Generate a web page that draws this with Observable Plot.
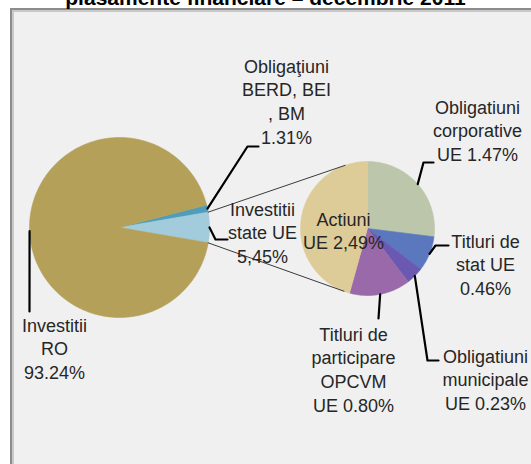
<!DOCTYPE html>
<html><head><meta charset="utf-8">
<script src="https://cdn.jsdelivr.net/npm/d3@7"></script>
<script src="https://cdn.jsdelivr.net/npm/@observablehq/plot@0.6"></script>
<style>
html,body{margin:0;padding:0;background:#fff;overflow:hidden;width:531px;height:464px;}
#wrap{position:relative;width:531px;height:464px;overflow:hidden;}
#title{position:absolute;left:0;width:531px;top:-13px;text-align:center;font:bold 21px "Liberation Sans",Arial,sans-serif;line-height:21px;color:#000;white-space:nowrap;}
#frame{position:absolute;left:10px;top:8px;width:560px;height:500px;border:2px solid #8c8c8c;background:#f0f0f0;box-shadow:inset 2px 2px 0 #c8c8c8;}
#chart{position:absolute;left:0;top:0;}
</style></head>
<body>
<div id="wrap">
<div id="frame"></div>
<div id="title">plasamente financiare – decembrie 2011</div>
<div id="chart"></div>
</div>
<script>
// ---- data ----
const mainCategories = ["Obligaţiuni BERD, BEI, BM", "Investitii state UE", "Investitii RO"];
const mainValues = [1.31, 5.45, 93.24];
const mainColors = ["#4f9dba", "#a2cbdc", "#b5a05a"];
const mainLabels = ["Obligaţiuni\nBERD, BEI\n, BM\n1.31%", "Investitii\nstate UE\n5,45%", "Investitii\nRO\n93.24%"];

const subCategories = ["Obligatiuni corporative UE", "Titluri de stat UE", "Obligatiuni municipale UE", "Titluri de participare OPCVM UE", "Actiuni UE"];
const subValues = [1.47, 0.46, 0.23, 0.80, 2.49];
const subColors = ["#bcc6aa", "#5b77bd", "#6b58b1", "#9a69a9", "#ddcc98"];
const subLabels = ["Obligatiuni\ncorporative\nUE 1.47%", "Titluri de\nstat UE\n0.46%", "Obligatiuni\nmunicipale\nUE 0.23%", "Titluri de\nparticipare\nOPCVM\nUE 0.80%", "Actiuni\nUE 2,49%"];

// ---- layout ----
const W = 531, H = 464;
const mainPie = {cx: 119, cy: 227, r: 90};
const subPie = {cx: 367, cy: 228, r: 67};
const LINE = 23.8, FS = 18;
const mainLayout = [
  {bend: [[247, 146], [258, 146]], lx: 286, ly: 72},
  {bend: [[215, 239], [227, 239]], lx: 262, ly: 215},
  {bend: [[29, 311]], lx: 54, ly: 331}
];
const subLayout = [
  {bend: [[423, 162], [433, 162]], lx: 477, ly: 113},
  {bend: [[435, 245], [448, 245]], lx: 485, ly: 247},
  {bend: [[427, 360], [438, 360]], lx: 485, ly: 362},
  {bend: [[378, 318]], lx: 353, ly: 340},
  {bend: null, lx: 343, ly: 225}
];
const connectorSubAngles = [-19.5, 200.5];

// ---- geometry from data ----
const rad = Math.PI / 180;
const mainTotal = d3.sum(mainValues);
const mainStart = Math.PI / 2 - (mainValues[1] / 2 + mainValues[0]) / mainTotal * 2 * Math.PI;
const mainArcs = d3.pie().sort(null).startAngle(mainStart).endAngle(mainStart + 2 * Math.PI)(mainValues);
const subArcs = d3.pie().sort(null).startAngle(0).endAngle(2 * Math.PI)(subValues);

const pt = (c, a, r = c.r) => [c.cx + r * Math.sin(a), c.cy - r * Math.cos(a)];
function slice(c, arc) {
  const pts = [[c.cx, c.cy]];
  const n = Math.max(2, Math.ceil((arc.endAngle - arc.startAngle) / rad));
  for (let i = 0; i <= n; i++) pts.push(pt(c, arc.startAngle + (arc.endAngle - arc.startAngle) * i / n));
  pts.push([c.cx, c.cy]);
  return pts;
}

const marks = [];
mainArcs.forEach((a, i) => marks.push(Plot.line(slice(mainPie, a), {x: d => d[0], y: d => d[1], fill: mainColors[i], stroke: mainColors[i], strokeWidth: 0.6})));
subArcs.forEach((a, i) => marks.push(Plot.line(slice(subPie, a), {x: d => d[0], y: d => d[1], fill: subColors[i], stroke: subColors[i], strokeWidth: 0.6})));

// connectors from the exploded slice to the secondary pie
const ex = mainArcs[1];
const conn = [
  [pt(mainPie, ex.startAngle), pt(subPie, connectorSubAngles[0] * rad)],
  [pt(mainPie, ex.endAngle), pt(subPie, connectorSubAngles[1] * rad)]
];
conn.forEach(c => marks.push(Plot.line(c, {x: d => d[0], y: d => d[1], stroke: "#3a3a3a", strokeWidth: 1})));

// leaders + labels
function addLabel(c, arc, lay, text) {
  if (lay.bend) {
    const mid = (arc.startAngle + arc.endAngle) / 2;
    const path = [pt(c, mid), ...lay.bend];
    marks.push(Plot.line(path, {x: d => d[0], y: d => d[1], stroke: "#000", strokeWidth: 2.2}));
  }
  const n = text.split("\n").length;
  marks.push(Plot.text([text], {x: () => lay.lx, y: () => lay.ly + (n - 1) * LINE, text: d => d,
    textAnchor: "middle", lineAnchor: "bottom", lineHeight: LINE / FS, fontSize: FS,
    fontFamily: "Liberation Sans, Arial, sans-serif", fill: "#262626"}));
}
mainArcs.forEach((a, i) => addLabel(mainPie, a, mainLayout[i], mainLabels[i]));
subArcs.forEach((a, i) => addLabel(subPie, a, subLayout[i], subLabels[i]));

const chart = Plot.plot({
  width: W, height: H, margin: 0,
  style: {background: "transparent", overflow: "visible"},
  x: {domain: [0, W], range: [0, W], axis: null},
  y: {domain: [0, H], range: [0, H], axis: null},
  marks
});
document.getElementById("chart").appendChild(chart);
</script>
</body></html>
